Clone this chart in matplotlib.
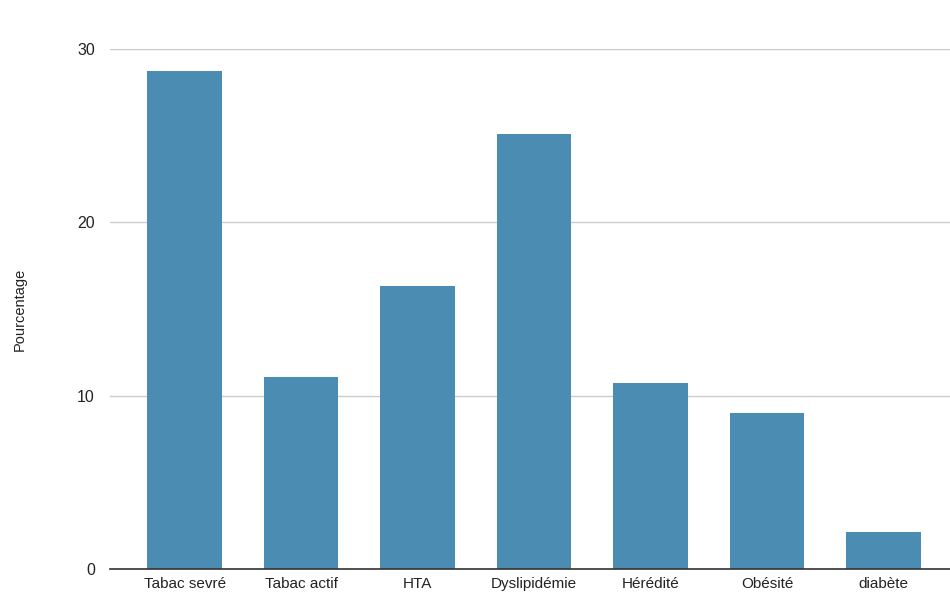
import matplotlib
matplotlib.use('Agg')
import matplotlib.pyplot as plt

categories = ['Tabac sevré', 'Tabac actif', 'HTA', 'Dyslipidémie', 'Hérédité', 'Obésité', 'diabète']
values = [28.7, 11.05, 16.3, 25.1, 10.75, 9.0, 2.15]
yticks = [0, 10, 20, 30]

plt.rcParams['font.family'] = ['Liberation Sans', 'DejaVu Sans']

fig = plt.figure(figsize=(9.5, 6.04), dpi=100)
ax = fig.add_axes([0.116, 0.058, 0.884, 0.861])

x = list(range(len(categories)))
ax.bar(x, values, width=0.64, color='#4a8cb2', zorder=3)

ax.set_ylim(0, 30)
ax.set_xlim(-0.64, 6.57)
ax.set_yticks(yticks)
ax.set_yticklabels([str(t) for t in yticks], fontsize=11.5, color='#222222')
ax.set_xticks(x)
ax.set_xticklabels(categories, fontsize=11, color='#222222')
ax.tick_params(axis='y', length=0, pad=11)
ax.tick_params(axis='x', length=0, pad=6)

ax.grid(axis='y', color='#cccccc', linewidth=1, zorder=0)
for side in ['top', 'right', 'left']:
    ax.spines[side].set_visible(False)
ax.spines['bottom'].set_color('#333333')
ax.spines['bottom'].set_linewidth(1.2)
ax.spines['bottom'].set_zorder(4)

ax.set_ylabel('Pourcentage', fontsize=10.5, color='#222222', labelpad=36)

fig.savefig('out.png', dpi=100)
plt.close(fig)
